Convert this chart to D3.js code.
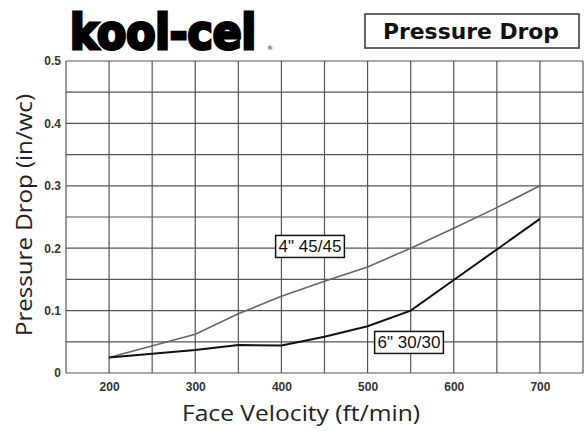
<!DOCTYPE html>
<html>
<head>
<meta charset="utf-8">
<script src="https://cdn.jsdelivr.net/npm/d3@7"></script>
<style>
  body { margin: 0; background: #fff; }
  svg { display: block; }
</style>
</head>
<body>
<svg id="chart"></svg>
<script>
// Data
const velocity = [200, 300, 350, 400, 450, 500, 550, 600, 650, 700];
const drop4in = [0.025, 0.062, 0.095, 0.123, 0.147, 0.17, 0.2, 0.232, 0.265, 0.3];
const drop6in = [0.025, 0.037, 0.045, 0.044, 0.058, 0.075, 0.1, 0.149, 0.198, 0.247];
const xTicks = [200, 300, 400, 500, 600, 700];
const yTicks = [0, 0.1, 0.2, 0.3, 0.4, 0.5];
const seriesNames = ['4" 45/45', '6" 30/30'];

const W = 586, H = 431;
const margin = { top: 61, right: 3, bottom: 58, left: 66 };

const svg = d3.select("#chart").attr("width", W).attr("height", H);

const x = d3.scaleLinear().domain([150, 750]).range([margin.left, W - margin.right]);
const y = d3.scaleLinear().domain([0, 0.5]).range([H - margin.bottom, margin.top]);

// Grid, every 50 ft/min and every 0.05 in/wc
const grid = svg.append("g").attr("stroke", "#555").attr("stroke-width", 1.2);
grid.selectAll(".vg")
  .data(d3.range(150, 751, 50))
  .enter().append("line")
  .attr("x1", d => x(d)).attr("x2", d => x(d))
  .attr("y1", y(0)).attr("y2", y(0.5));
grid.selectAll(".hg")
  .data(d3.range(0, 0.501, 0.05))
  .enter().append("line")
  .attr("x1", x(150)).attr("x2", x(750))
  .attr("y1", d => y(d)).attr("y2", d => y(d));

// Axes (labels only, grid draws the lines)
const xAxis = svg.append("g")
  .attr("transform", "translate(0," + y(0) + ")")
  .call(d3.axisBottom(x).tickValues(xTicks).tickSize(0).tickPadding(9));
const yAxis = svg.append("g")
  .attr("transform", "translate(" + margin.left + ",0)")
  .call(d3.axisLeft(y).tickValues(yTicks).tickSize(0).tickPadding(5)
    .tickFormat(d => d === 0 ? "0" : d3.format(".1f")(d)));
[xAxis, yAxis].forEach(a => {
  a.select(".domain").remove();
  a.selectAll("text")
    .attr("fill", "#333")
    .style("font-family", "Liberation Sans, Arial, sans-serif")
    .style("font-size", "12px")
    .style("font-weight", "bold");
});

// Lines
const line = d3.line().x((d, i) => x(velocity[i])).y(d => y(d));
svg.append("path")
  .datum(drop4in)
  .attr("fill", "none")
  .attr("stroke", "#666")
  .attr("stroke-width", 1.6)
  .attr("d", line);
svg.append("path")
  .datum(drop6in)
  .attr("fill", "none")
  .attr("stroke", "#111")
  .attr("stroke-width", 2)
  .attr("d", line);

// Series labels in boxes
function boxLabel(text, cx, cy) {
  const g = svg.append("g");
  const t = g.append("text")
    .attr("x", cx).attr("y", cy)
    .attr("text-anchor", "middle")
    .attr("dy", "0.35em")
    .style("font-family", "Liberation Sans, Arial, sans-serif")
    .style("font-size", "17px")
    .attr("fill", "#111")
    .text(text);
  const b = t.node().getBBox();
  g.insert("rect", "text")
    .attr("x", b.x - 3).attr("y", b.y - 1.5)
    .attr("width", b.width + 6).attr("height", b.height + 3)
    .attr("fill", "#fff")
    .attr("stroke", "#111")
    .attr("stroke-width", 1.5);
}
boxLabel(seriesNames[0], 310, 246);
boxLabel(seriesNames[1], 409, 342);

// Axis titles
svg.append("text")
  .attr("x", 301).attr("y", 421)
  .attr("text-anchor", "middle")
  .attr("textLength", 238)
  .attr("lengthAdjust", "spacingAndGlyphs")
  .style("font-family", "'Open Sans', Lato, sans-serif")
  .style("font-size", "22px")
  .attr("fill", "#222")
  .text("Face Velocity (ft/min)");
svg.append("text")
  .attr("transform", "translate(32,215) rotate(-90)")
  .attr("text-anchor", "middle")
  .attr("textLength", 242)
  .attr("lengthAdjust", "spacingAndGlyphs")
  .style("font-family", "'Open Sans', Lato, sans-serif")
  .style("font-size", "22px")
  .attr("fill", "#222")
  .text("Pressure Drop (in/wc)");

// Title box
svg.append("rect")
  .attr("x", 365).attr("y", 14)
  .attr("width", 214).attr("height", 34)
  .attr("fill", "#fff")
  .attr("stroke", "#333")
  .attr("stroke-width", 1.5);
svg.append("text")
  .attr("x", 471).attr("y", 39)
  .attr("text-anchor", "middle")
  .attr("textLength", 176)
  .attr("lengthAdjust", "spacingAndGlyphs")
  .style("font-family", "'DejaVu Sans', sans-serif")
  .style("font-size", "21px")
  .style("font-weight", "bold")
  .attr("fill", "#111")
  .text("Pressure Drop");

// Logo
svg.append("text")
  .attr("x", 70).attr("y", 49)
  .attr("textLength", 186)
  .attr("lengthAdjust", "spacingAndGlyphs")
  .style("font-family", "'DejaVu Sans Condensed', 'DejaVu Sans', sans-serif")
  .style("font-size", "48px")
  .style("font-weight", "bold")
  .attr("fill", "#000")
  .attr("stroke", "#000")
  .attr("stroke-width", 3)
  .text("kool-cel");
svg.append("text")
  .attr("x", 267).attr("y", 50)
  .style("font-family", "'DejaVu Sans', sans-serif")
  .style("font-size", "6px")
  .attr("fill", "#000")
  .text("®");
</script>
</body>
</html>
